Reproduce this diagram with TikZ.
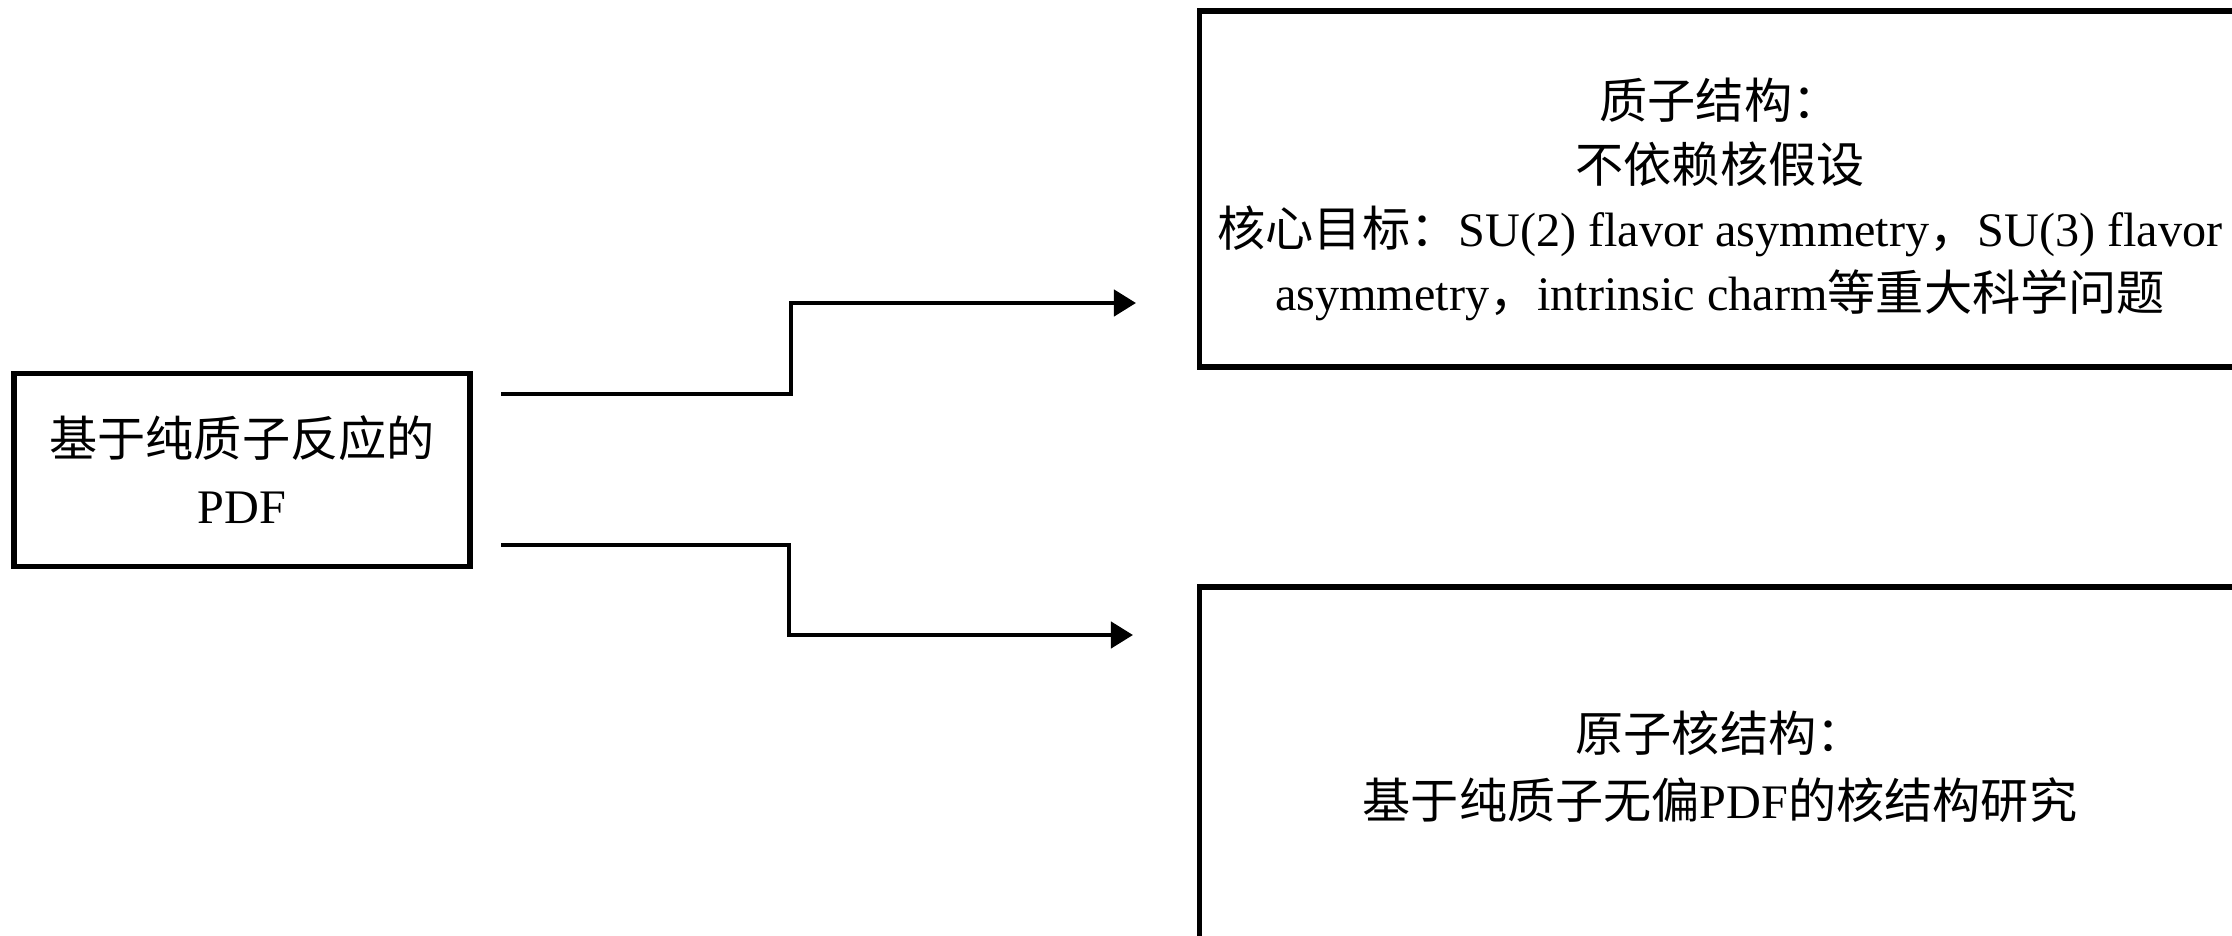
\documentclass[tikz,border=0pt]{standalone}
\usepackage{fontspec}
\setmainfont{Liberation Serif}
\newfontfamily\cjk{Noto Sans CJK SC}
\usetikzlibrary{arrows.meta}
\newcommand{\latn}[1]{{\rmfamily #1}}
\tikzset{
  box/.style={draw=black, line width=1.5pt, align=center, inner sep=0pt,
    font=\cjk\fontsize{13.7pt}{19.1pt}\selectfont},
  tightbox/.style={box, font=\cjk\fontsize{13.7pt}{18.2pt}\selectfont},
  conn/.style={draw=black, line width=1.2pt, line join=miter},
  arr/.style={conn, -{Triangle[length=0.22cm,width=0.26cm]}}
}
\begin{document}
\begin{tikzpicture}[x=0.01cm,y=-0.01cm]
\clip (0,0) rectangle (2232,936);
\fill[white] (0,0) rectangle (2232,936);
\node[box, minimum width=4.56cm, minimum height=1.93cm] (src) at (242,470)
  {基于纯质子反应的\\\latn{PDF}};
\node[tightbox, minimum width=10.4cm, minimum height=3.56cm] (up) at (1720,189)
  {\rule{0pt}{0.62cm}质子结构：\\不依赖核假设\\核心目标：\latn{SU(2) flavor asymmetry}，\latn{SU(3) flavor}\\\latn{asymmetry}，\latn{intrinsic charm}等重大科学问题};
\node[box, minimum width=10.4cm, minimum height=3.6cm] (low) at (1720,767)
  {原子核结构：\\基于纯质子无偏\latn{PDF}的核结构研究};
\coordinate (s1) at (501,394);
\coordinate (k1) at (791,394);
\coordinate (e1) at (1136,303);
\coordinate (s2) at (501,545);
\coordinate (k2) at (789,545);
\coordinate (e2) at (1133,635);
\draw[arr] (s1) -- (k1) |- (e1);
\draw[arr] (s2) -- (k2) |- (e2);
\end{tikzpicture}
\end{document}
